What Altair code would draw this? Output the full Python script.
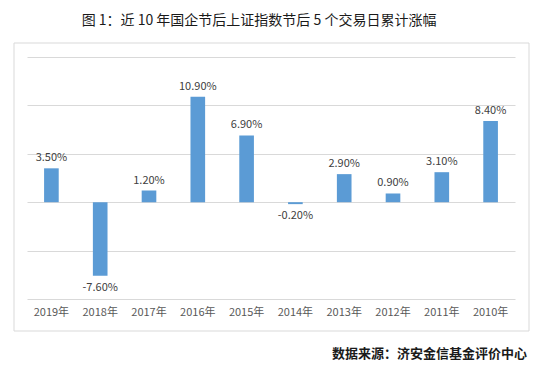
import altair as alt
import pandas as pd

years = ["2019年", "2018年", "2017年", "2016年", "2015年", "2014年", "2013年", "2012年", "2011年", "2010年"]
values = [3.5, -7.6, 1.2, 10.9, 6.9, -0.2, 2.9, 0.9, 3.1, 8.4]
title_text = "图 1：近 10 年国企节后上证指数节后 5 个交易日累计涨幅"
source_text = "数据来源：济安金信基金评价中心"

df = pd.DataFrame({"year": years, "v": values, "label": [f"{v:.2f}%" for v in values]})

FONT = "Noto Sans CJK SC"
W, H = 488, 242

xenc = alt.X("year:N", sort=None, title=None,
             scale=alt.Scale(paddingInner=0.7, paddingOuter=0.35),
             axis=alt.Axis(labelAngle=0, domain=False, ticks=False, labelFont=FONT,
                           labelFontSize=11, labelColor="#595959", labelPadding=7))
yenc = alt.Y("v:Q", title=None, scale=alt.Scale(domain=[-10, 15], nice=False),
             axis=alt.Axis(values=[-10, -5, 0, 5, 10, 15], labels=False, ticks=False,
                           domain=False, grid=True, gridColor="#d9d9d9", gridWidth=1))

base = alt.Chart(df)

frame = alt.Chart(pd.DataFrame({"a": [0]})).mark_rect(
    fill=None, stroke="#d9d9d9", strokeWidth=1
).encode(x=alt.value(-13), x2=alt.value(502), y=alt.value(-14), y2=alt.value(274))

bars = base.mark_bar(color="#5B9BD5").encode(x=xenc, y=yenc, y2=alt.datum(0))

pos = base.transform_filter("datum.v >= 0").mark_text(
    baseline="bottom", dy=-5, font=FONT, fontSize=11, color="#404040"
).encode(x=alt.X("year:N", sort=None), y="v:Q", text="label:N")

neg = base.transform_filter("datum.v < 0").mark_text(
    baseline="top", dy=6, font=FONT, fontSize=11, color="#404040"
).encode(x=alt.X("year:N", sort=None), y="v:Q", text="label:N")

title = alt.Chart(pd.DataFrame({"t": [title_text]})).mark_text(
    font=FONT, fontSize=14, fontWeight="normal", color="#1a1a1a", align="center", baseline="middle"
).encode(text="t:N", x=alt.value(232), y=alt.value(-36))

source = alt.Chart(pd.DataFrame({"t": [source_text]})).mark_text(
    font=FONT, fontSize=13, fontWeight="bold", color="#1a1a1a", align="right", baseline="middle"
).encode(text="t:N", x=alt.value(500), y=alt.value(297))

chart = alt.layer(frame, bars, pos, neg, title, source).properties(
    width=W, height=H,
    autosize=alt.AutoSizeParams(type="none"),
    padding={"left": 19, "top": 49, "right": 16, "bottom": 69},
    background="white",
).configure_view(stroke=None)

chart.save("out.html", embed_options={"renderer": "svg", "actions": False})
